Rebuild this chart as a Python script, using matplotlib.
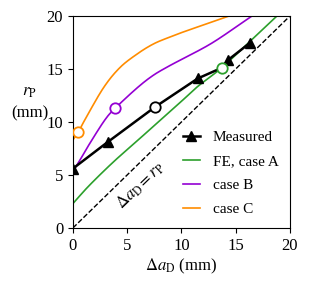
import numpy as np
import matplotlib
matplotlib.use("Agg")
from matplotlib import pyplot as plt

plt.rcParams['font.family'] = ['Liberation Serif', 'DejaVu Serif']
plt.rcParams['mathtext.fontset'] = 'stix'
plt.rcParams['font.size'] = 12

# measured polyline and the triangle-marked points
meas_x = [0.0, 3.2, 7.55, 11.5, 13.7, 14.3, 16.3]
meas_y = [5.6, 8.1, 11.4, 14.1, 15.1, 15.85, 17.45]
tri_x = [0.0, 3.2, 11.5, 14.3, 16.3]
tri_y = [5.6, 8.1, 14.1, 15.85, 17.45]

# FE curves
a_x = [0.0, 1.5, 3.7, 5.9, 8.2, 10.0, 11.5, 13.7, 16.0, 18.8]
a_y = [2.3, 4.0, 6.2, 8.2, 10.3, 11.95, 13.35, 15.1, 17.3, 20.0]
b_x = [0.0, 0.65, 1.57, 2.95, 3.9, 5.9, 7.4, 8.9, 10.1, 12.9, 16.5]
b_y = [5.3, 6.4, 8.0, 10.2, 11.3, 13.2, 14.4, 15.3, 15.95, 17.5, 20.0]
c_x = [0.0, 0.5, 1.1, 2.8, 4.3, 5.9, 7.4, 8.9, 10.2, 12.3, 14.4]
c_y = [8.3, 9.05, 10.2, 13.2, 15.1, 16.4, 17.35, 18.0, 18.5, 19.25, 20.0]

# highlighted points (open circles)
circ_x = [0.5, 3.9, 7.55, 13.7]
circ_y = [9.05, 11.3, 11.4, 15.1]
circ_c = ['darkorange', 'darkviolet', 'black', 'tab:green']


def spline(x, y, n=30):
    # uniform Catmull-Rom through the read points
    p = np.column_stack([x, y]).astype(float)
    p = np.vstack([2 * p[0] - p[1], p, 2 * p[-1] - p[-2]])
    t = np.linspace(0, 1, n, endpoint=False)[:, None]
    out = []
    for i in range(1, len(p) - 2):
        p0, p1, p2, p3 = p[i - 1], p[i], p[i + 1], p[i + 2]
        seg = 0.5 * ((2 * p1) + (-p0 + p2) * t
                     + (2 * p0 - 5 * p1 + 4 * p2 - p3) * t ** 2
                     + (-p0 + 3 * p1 - 3 * p2 + p3) * t ** 3)
        out.append(seg)
    out.append(p[-2][None, :])
    out = np.vstack(out)
    return out[:, 0], out[:, 1]


fig = plt.figure(figsize=(3.09, 2.90), dpi=100)
ax = fig.add_axes([0.236, 0.214, 0.7025, 0.731])

ax.plot([0, 20], [0, 20], 'k--', lw=1.0)
ax.text(6.2, 4.0, r'$\Delta a_\mathrm{D} = r_\mathrm{P}$', rotation=44,
        ha='center', va='center', fontsize=12)

ax.plot(*spline(a_x, a_y), color='tab:green', lw=1.2, label='FE, case A')
ax.plot(*spline(b_x, b_y), color='darkviolet', lw=1.2, label='case B')
ax.plot(*spline(c_x, c_y), color='darkorange', lw=1.2, label='case C')

ax.plot(meas_x, meas_y, color='black', lw=1.8)
ax.plot(tri_x, tri_y, color='black', lw=0, marker='^', ms=7)
ax.plot([], [], color='black', lw=1.8, marker='^', ms=7, label='Measured')

for cx, cy, cc in zip(circ_x, circ_y, circ_c):
    ax.plot(cx, cy, 'o', ms=7.5, mfc='white', mec=cc, mew=1.3, zorder=5)

ax.set_xlim(0, 20)
ax.set_ylim(0, 20)
ax.set_xticks([0, 5, 10, 15, 20])
ax.set_yticks([0, 5, 10, 15, 20])
ax.tick_params(labelsize=12, length=3.5)
ax.set_xlabel(r'$\Delta a_\mathrm{D}$ (mm)', fontsize=12, labelpad=2)
ax.set_ylabel('$r_\\mathrm{P}$\n(mm)', rotation=0, fontsize=12, va='center',
              ha='center', linespacing=1.5)
ax.yaxis.set_label_coords(-0.2, 0.59)

h, l = ax.get_legend_handles_labels()
order = [3, 0, 1, 2]
ax.legend([h[i] for i in order], [l[i] for i in order], loc='lower right',
          frameon=False, fontsize=11, handlelength=1.1, handletextpad=0.85,
          borderaxespad=0.35, labelspacing=0.68)

fig.savefig('out.png', dpi=100)
